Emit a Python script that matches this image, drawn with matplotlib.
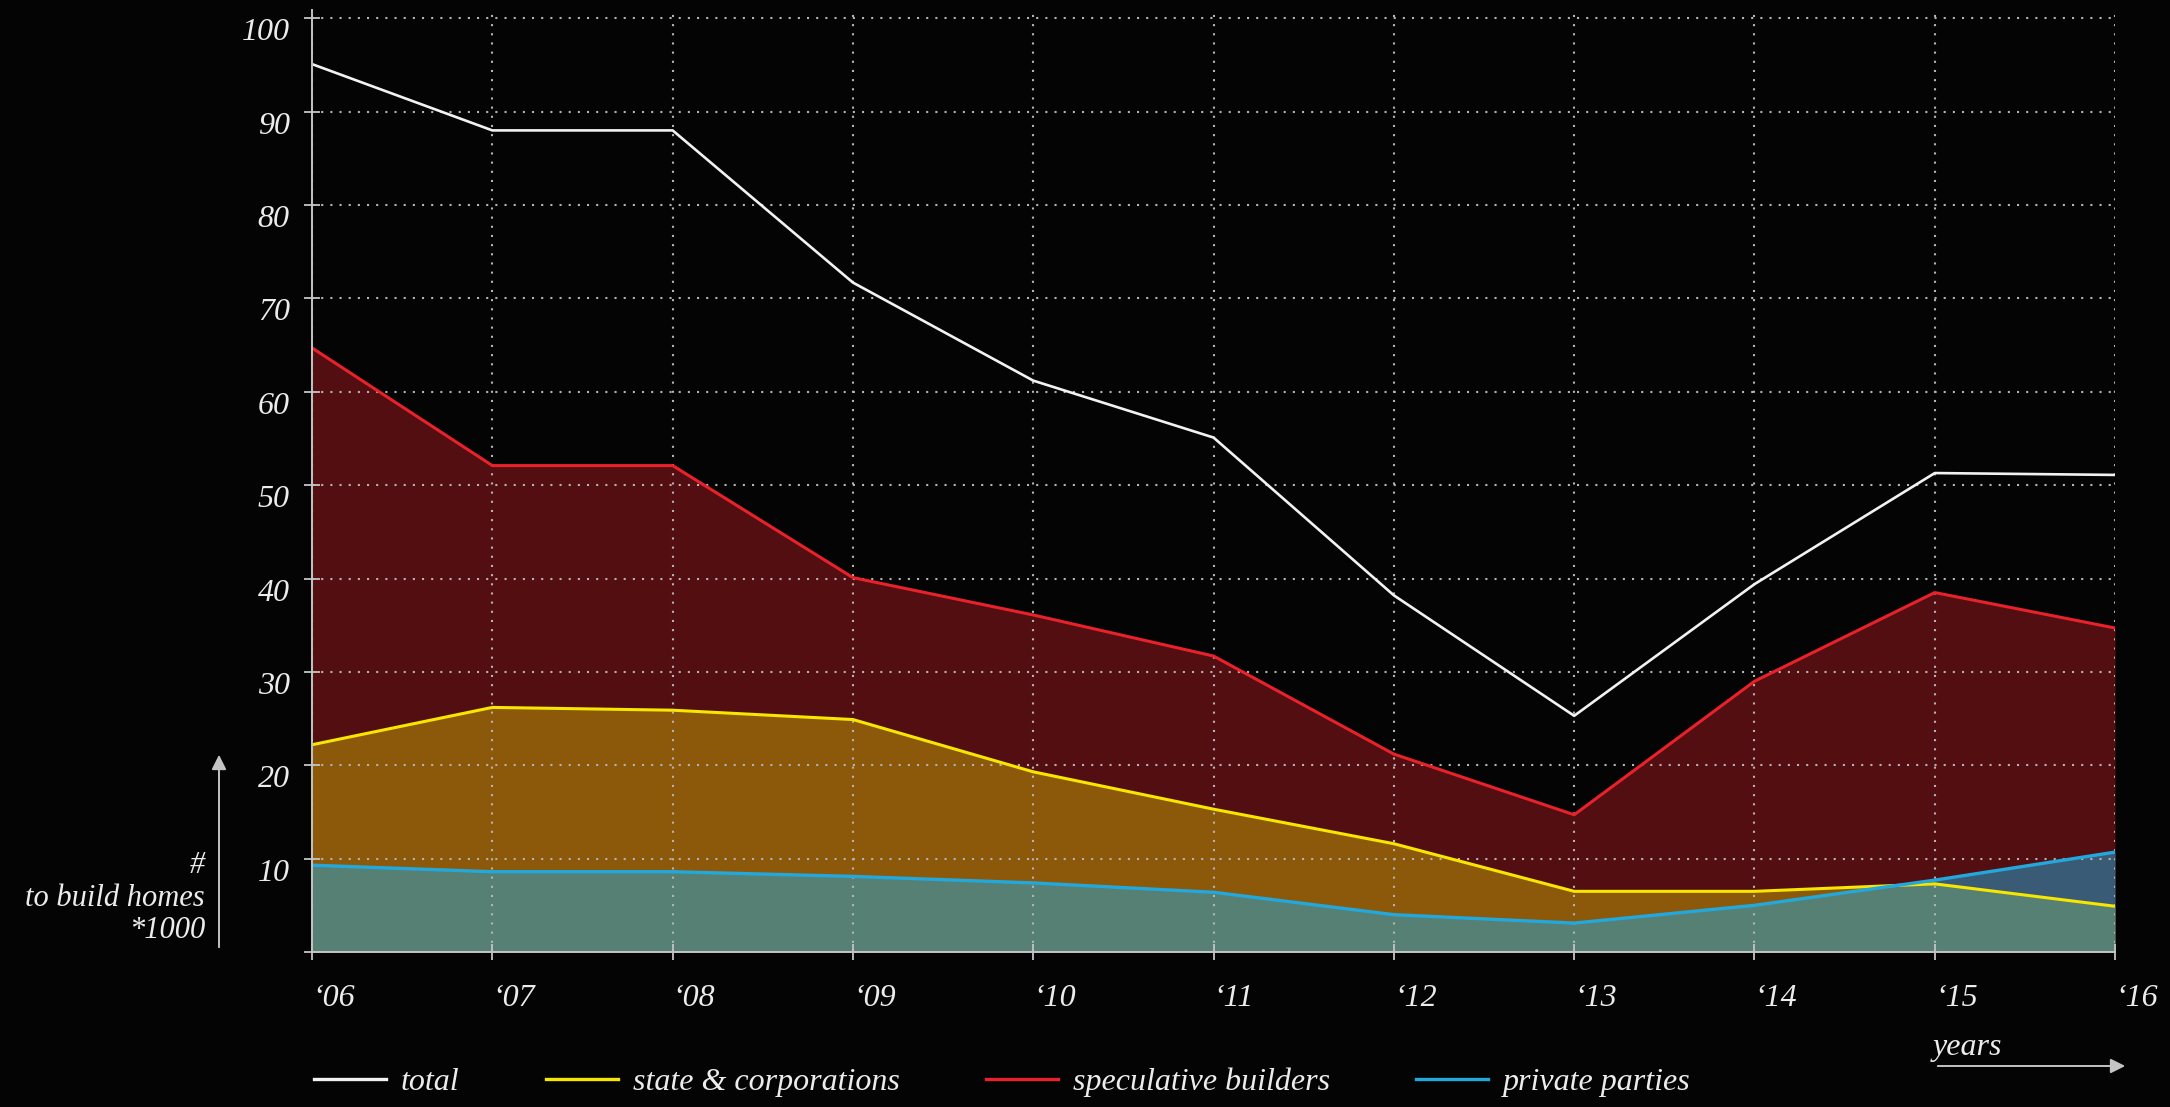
import matplotlib
matplotlib.use('Agg')
import matplotlib.pyplot as plt
import matplotlib.transforms as mtransforms
from matplotlib.lines import Line2D

# ---------------------------------------------------------------------------
# Data (thousands of homes)
# ---------------------------------------------------------------------------
years = [2006, 2007, 2008, 2009, 2010, 2011, 2012, 2013, 2014, 2015, 2016]
year_labels = ['\u201806', '\u201807', '\u201808', '\u201809', '\u201810', '\u201811',
               '\u201812', '\u201813', '\u201814', '\u201815', '\u201816']
total = [95.1, 88.0, 88.0, 71.7, 61.2, 55.1, 38.2, 25.3, 39.4, 51.3, 51.1]
speculative = [64.7, 52.1, 52.1, 40.1, 36.1, 31.7, 21.2, 14.7, 29.0, 38.5, 34.7]
state_corp = [22.2, 26.2, 25.9, 24.9, 19.3, 15.3, 11.6, 6.5, 6.5, 7.3, 4.9]
private = [9.3, 8.6, 8.6, 8.1, 7.4, 6.4, 4.0, 3.1, 5.0, 7.7, 10.7]
y_ticks = [0, 10, 20, 30, 40, 50, 60, 70, 80, 90, 100]
y_tick_labels = ['', '10', '20', '30', '40', '50', '60', '70', '80', '90', '100']

BG = '#040404'
FG = '#ececec'
AXC = '#c4c4c4'
C_TOTAL = '#f2f2f2'
C_STATE = '#f7e600'
C_SPEC = '#e8212a'
C_PRIV = '#22a8dc'
FONT = 'Liberation Serif'

plt.rcParams['font.family'] = [FONT, 'DejaVu Serif']
plt.rcParams['font.style'] = 'italic'

fig = plt.figure(figsize=(21.7, 11.07), dpi=100, facecolor=BG)
ax = fig.add_axes([0.1438, 0.14, 0.9747 - 0.1438, 0.991 - 0.14], facecolor=BG)

# overlapping areas (not stacked)
ax.fill_between(years, 0, speculative, color=C_SPEC, alpha=0.35, lw=0, zorder=1)
ax.fill_between(years, 0, state_corp, color=C_STATE, alpha=0.35, lw=0, zorder=1.1)
ax.fill_between(years, 0, private, color=C_PRIV, alpha=0.5, lw=0, zorder=1.2)

ax.plot(years, speculative, color=C_SPEC, lw=2.2, zorder=3)
ax.plot(years, state_corp, color=C_STATE, lw=2.2, zorder=3.1)
ax.plot(years, private, color=C_PRIV, lw=2.4, zorder=3.2)
ax.plot(years, total, color=C_TOTAL, lw=1.9, zorder=3.3)

ax.set_xlim(2006, 2016)
ax.set_ylim(0, 100.9)

ax.set_xticks(years)
ax.set_xticklabels(year_labels)
ax.set_yticks(y_ticks)
ax.set_yticklabels(y_tick_labels)
shift = mtransforms.ScaledTranslation(4 / 100, 0, fig.dpi_scale_trans)
for lbl in ax.get_xticklabels():
    lbl.set_horizontalalignment('left')
    lbl.set_transform(lbl.get_transform() + shift)
for lbl in ax.get_yticklabels():
    lbl.set_verticalalignment('top')

ax.tick_params(axis='both', colors=AXC, labelcolor=FG, labelsize=23,
               direction='inout', length=12, width=1.3)
ax.tick_params(axis='x', pad=17)
ax.tick_params(axis='y', pad=10)

ax.set_axisbelow(False)
ax.grid(True, color='#b4b4b4', lw=1.5, linestyle=(0, (1, 3.4)), zorder=2)

for side in ['top', 'right']:
    ax.spines[side].set_visible(False)
for side in ['left', 'bottom']:
    ax.spines[side].set_color(AXC)
    ax.spines[side].set_linewidth(1.4)
    ax.spines[side].set_zorder(4)

# y axis caption with arrow
fig.text(205 / 2170, 1 - 898 / 1107, '#\nto build homes\n*1000', ha='right', va='center',
         multialignment='right', fontsize=22, color=FG, linespacing=1.15)
fig.add_artist(matplotlib.patches.FancyArrowPatch(
    (219 / 2170, 1 - 950 / 1107), (219 / 2170, 1 - 752 / 1107),
    transform=fig.transFigure, arrowstyle='-|>', mutation_scale=22,
    color=AXC, lw=1.4))

# x axis caption with arrow
fig.text(1933 / 2170, 1 - 1047 / 1107, 'years', ha='left', va='center',
         fontsize=23, color=FG)
fig.add_artist(matplotlib.patches.FancyArrowPatch(
    (1935 / 2170, 1 - 1066 / 1107), (2128 / 2170, 1 - 1066 / 1107),
    transform=fig.transFigure, arrowstyle='-|>', mutation_scale=22,
    color=AXC, lw=1.4))

# legend
handles = [Line2D([], [], color=C_TOTAL, lw=2.4),
           Line2D([], [], color=C_STATE, lw=2.4),
           Line2D([], [], color=C_SPEC, lw=2.4),
           Line2D([], [], color=C_PRIV, lw=2.4)]
names = ['total', 'state & corporations', 'speculative builders', 'private parties']
leg = fig.legend(handles, names, loc='center left',
                 bbox_to_anchor=(314 / 2170, 1 - 1082 / 1107), ncol=4,
                 frameon=False, fontsize=23, labelcolor=FG,
                 handlelength=2.25, handletextpad=0.47, columnspacing=2.7,
                 borderpad=0, borderaxespad=0)

plt.savefig('out.png', dpi=100, facecolor=BG)
plt.close()
